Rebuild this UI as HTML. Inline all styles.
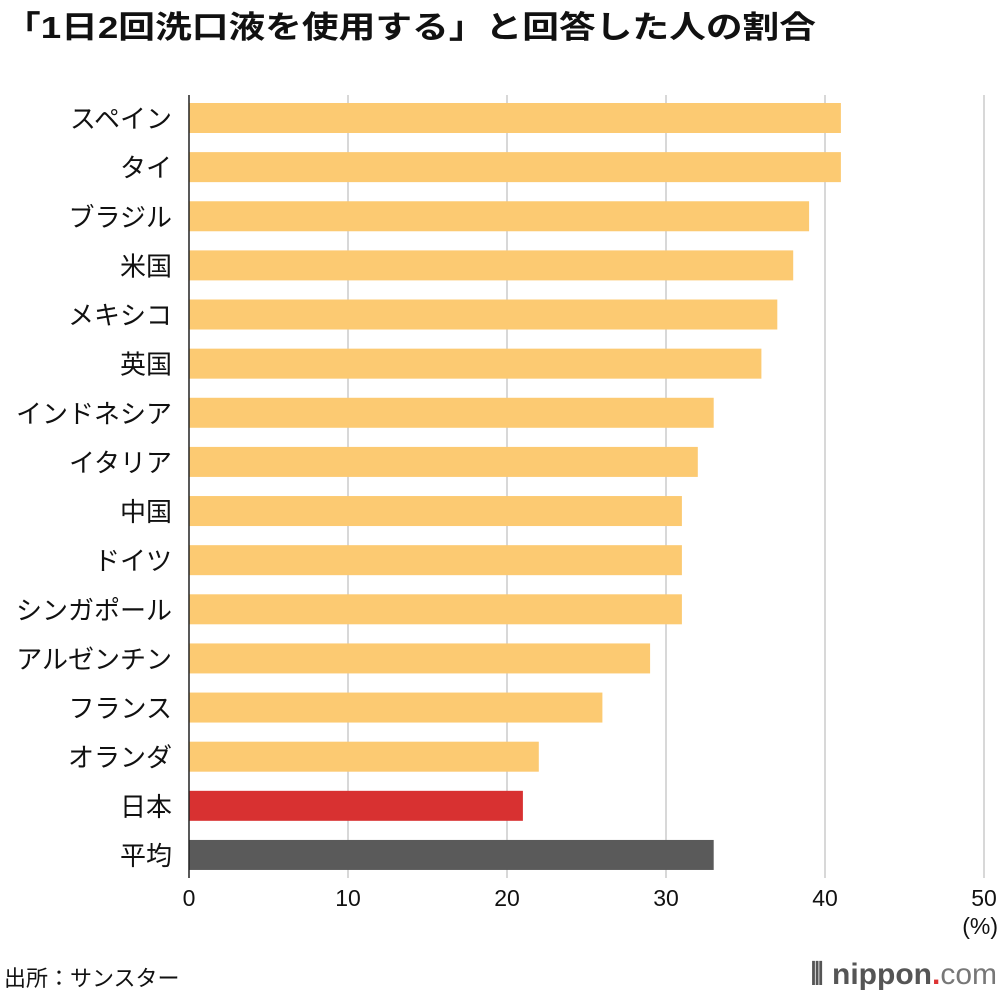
<!DOCTYPE html>
<html><head><meta charset="utf-8"><style>
body{margin:0;width:1000px;height:996px;background:#fff;overflow:hidden;font-family:"Liberation Sans","Noto Sans CJK JP",sans-serif}
svg text{font-family:"Liberation Sans","Noto Sans CJK JP",sans-serif}
</style></head><body>
<svg id="chart" width="1000" height="996" xmlns="http://www.w3.org/2000/svg">
<text x="4" y="38" font-size="31" font-weight="bold" fill="#111" textLength="812" lengthAdjust="spacingAndGlyphs">「1日2回洗口液を使用する」と回答した人の割合</text>
<g id="grid"></g><g id="bars"></g><g id="labels"></g><g id="ticks"></g>
<line x1="189" y1="95" x2="189" y2="878" stroke="#222" stroke-width="1.5"/>
<text x="998" y="934" font-size="23" text-anchor="end" fill="#111">(%)</text>
<text x="4" y="986" font-size="22" fill="#111">出所：サンスター</text>
<text x="997" y="984" font-size="30" text-anchor="end" fill="#555" font-weight="bold">⦀ nippon<tspan fill="#d33">.</tspan><tspan font-weight="normal" fill="#777">com</tspan></text>
</svg>
<script>
const categories=["スペイン","タイ","ブラジル","米国","メキシコ","英国","インドネシア","イタリア","中国","ドイツ","シンガポール","アルゼンチン","フランス","オランダ","日本","平均"];
const values=[41,41,39,38,37,36,33,32,31,31,31,29,26,22,21,33];
const ticks=[0,10,20,30,40,50];
const NS="http://www.w3.org/2000/svg";
const x=v=>189+v*15.9;
const y=i=>118+i*49.13;
function mk(t,a,p){const e=document.createElementNS(NS,t);for(const k in a)e.setAttribute(k,a[k]);document.getElementById(p).appendChild(e);return e;}
ticks.forEach(t=>{
 if(t>0){const l=mk('line',{x1:x(t),x2:x(t),y1:95,y2:878,stroke:'#ccc','stroke-width':1.5},'grid');
 
 }
 const tx=mk('text',{x:x(t),y:906,'font-size':23,'text-anchor':'middle',fill:'#111'},'ticks');
 tx.textContent=t;
 
 
});
categories.forEach((c,i)=>{
 const col=c==="日本"?'#d83131':c==="平均"?'#5a5a5a':'#fcca72';
 const r=mk('rect',{x:189,y:y(i)-15,width:x(values[i])-189,height:30,fill:col},'bars');
 
 
 const t=mk('text',{x:172,y:y(i)+10,'font-size':26,'text-anchor':'end',fill:'#111'},'labels');
 t.textContent=c;
 
 
});
</script>
</body></html>
